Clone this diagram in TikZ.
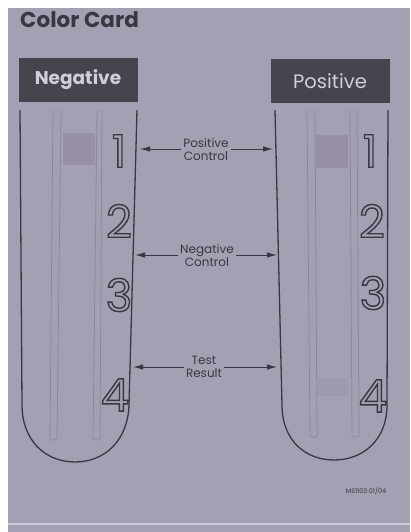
\documentclass[tikz,border=0pt]{standalone}
\usepackage{fontspec}
\setmainfont{Poppins}
\usetikzlibrary{arrows.meta}

\definecolor{card}{RGB}{163,160,180}
\definecolor{ink}{RGB}{58,55,66}
\definecolor{labelbox}{RGB}{70,68,76}
\definecolor{labeltext}{RGB}{208,207,215}
\definecolor{stripline}{RGB}{140,137,157}
\definecolor{band}{RGB}{152,145,166}
\definecolor{bandfaint}{RGB}{158,154,174}

% hollow (stroked) glyphs via the PDF text rendering mode
\newcommand\hollowdigit[1]{%
  \special{pdf:literal direct 1 Tr 1.4 w}#1\special{pdf:literal direct 0 Tr}}

\tikzset{
  header/.style={fill=labelbox, text=labeltext, minimum width=119pt,
    minimum height=44pt, inner sep=0pt, font=\fontsize{18.5}{18.5}\selectfont},
  tube/.style={draw=ink, line width=1.3pt, line join=round},
  stripedge/.style={draw=stripline, line width=0.8pt, rounded corners=2pt},
  digit/.style={text=ink, inner sep=0pt, font=\fontsize{45}{45}\selectfont},
  callout/.style={align=center, text=ink, inner sep=2pt,
    font=\fontsize{12}{13}\selectfont},
  pointer/.style={draw=ink, line width=1pt,
    -{Latex[length=10pt,width=5.5pt]}},
}

\begin{document}
\begin{tikzpicture}[x=1pt,y=-1pt]
\useasboundingbox (0,0) rectangle (410,532);
\fill[white] (0,0) rectangle (410,532);
\fill[card] (8,8) rectangle (410,532);
\draw[white!45!card, line width=1.2pt] (8,524) -- (410,524);

% title
\node[anchor=base west, text=ink, inner sep=0pt,
      font=\bfseries\fontsize{21.5}{21.5}\selectfont] (title) at (20,28) {Color Card};

% column headers
\node[header, font=\bfseries\fontsize{18.5}{18.5}\selectfont] (neg) at (78,80) {Negative};
\node[header, font=\fontsize{19.5}{19.5}\selectfont] (pos) at (330,81) {Positive};

% reagent strips inside the tubes
\draw[stripedge] (53,110) -- (50,440) -- (57,440) -- (61,110);
\draw[stripedge] (97,110) -- (93,440) -- (100,440) -- (102,110);
\draw[stripedge] (307,110) -- (310,437) -- (317,437) -- (315,110);
\draw[stripedge] (350,110) -- (352,437) -- (359,437) -- (357,110);

% coloured bands
\fill[band] (63,133) rectangle (95,165);
\fill[band] (315,135) rectangle (348,168);
\fill[bandfaint] (317,378) rectangle (348,396);

% tubes
\draw[tube] (20,110) -- (22,405)
  .. controls (22,440) and (45,462) .. (75,462)
  .. controls (105,462) and (128,440) .. (129,405) -- (137,110);
\draw[tube] (275,110) -- (282,405)
  .. controls (282,440) and (305,460) .. (334,460)
  .. controls (363,460) and (387,440) .. (387,405) -- (388,110);

% zone numbers
\node[digit] (n1) at (119,151) {\hollowdigit{1}};
\node[digit] (n2) at (119,221) {\hollowdigit{2}};
\node[digit] (n3) at (119,295) {\hollowdigit{3}};
\node[digit] (n4) at (115,395) {\hollowdigit{4}};
\node[digit] (p1) at (370,151) {\hollowdigit{1}};
\node[digit] (p2) at (372,221) {\hollowdigit{2}};
\node[digit] (p3) at (373,293) {\hollowdigit{3}};
\node[digit] (p4) at (373,396) {\hollowdigit{4}};

% tube wall points
\coordinate (pcL) at (140,149);
\coordinate (pcR) at (273,149);
\coordinate (ncL) at (135,255);
\coordinate (ncR) at (277,255);
\coordinate (trL) at (133,367);
\coordinate (trR) at (277,367);

% zone callouts
\node[callout] (pc) at (206,149) {Positive\\Control};
\node[callout] (nc) at (207,255) {Negative\\Control};
\node[callout] (tr) at (204,367) {Test\\Result};
\draw[pointer] (pc.west) -- (pcL);
\draw[pointer] (pc.east) -- (pcR);
\draw[pointer] (nc.west) -- (ncL);
\draw[pointer] (nc.east) -- (ncR);
\draw[pointer] (tr.west) -- (trL);
\draw[pointer] (tr.east) -- (trR);

% print code
\node[text=ink, inner sep=0pt, font=\fontsize{6.5}{6.5}\selectfont] (code) at (366,491) {MS1103 01/04};
\end{tikzpicture}
\end{document}
